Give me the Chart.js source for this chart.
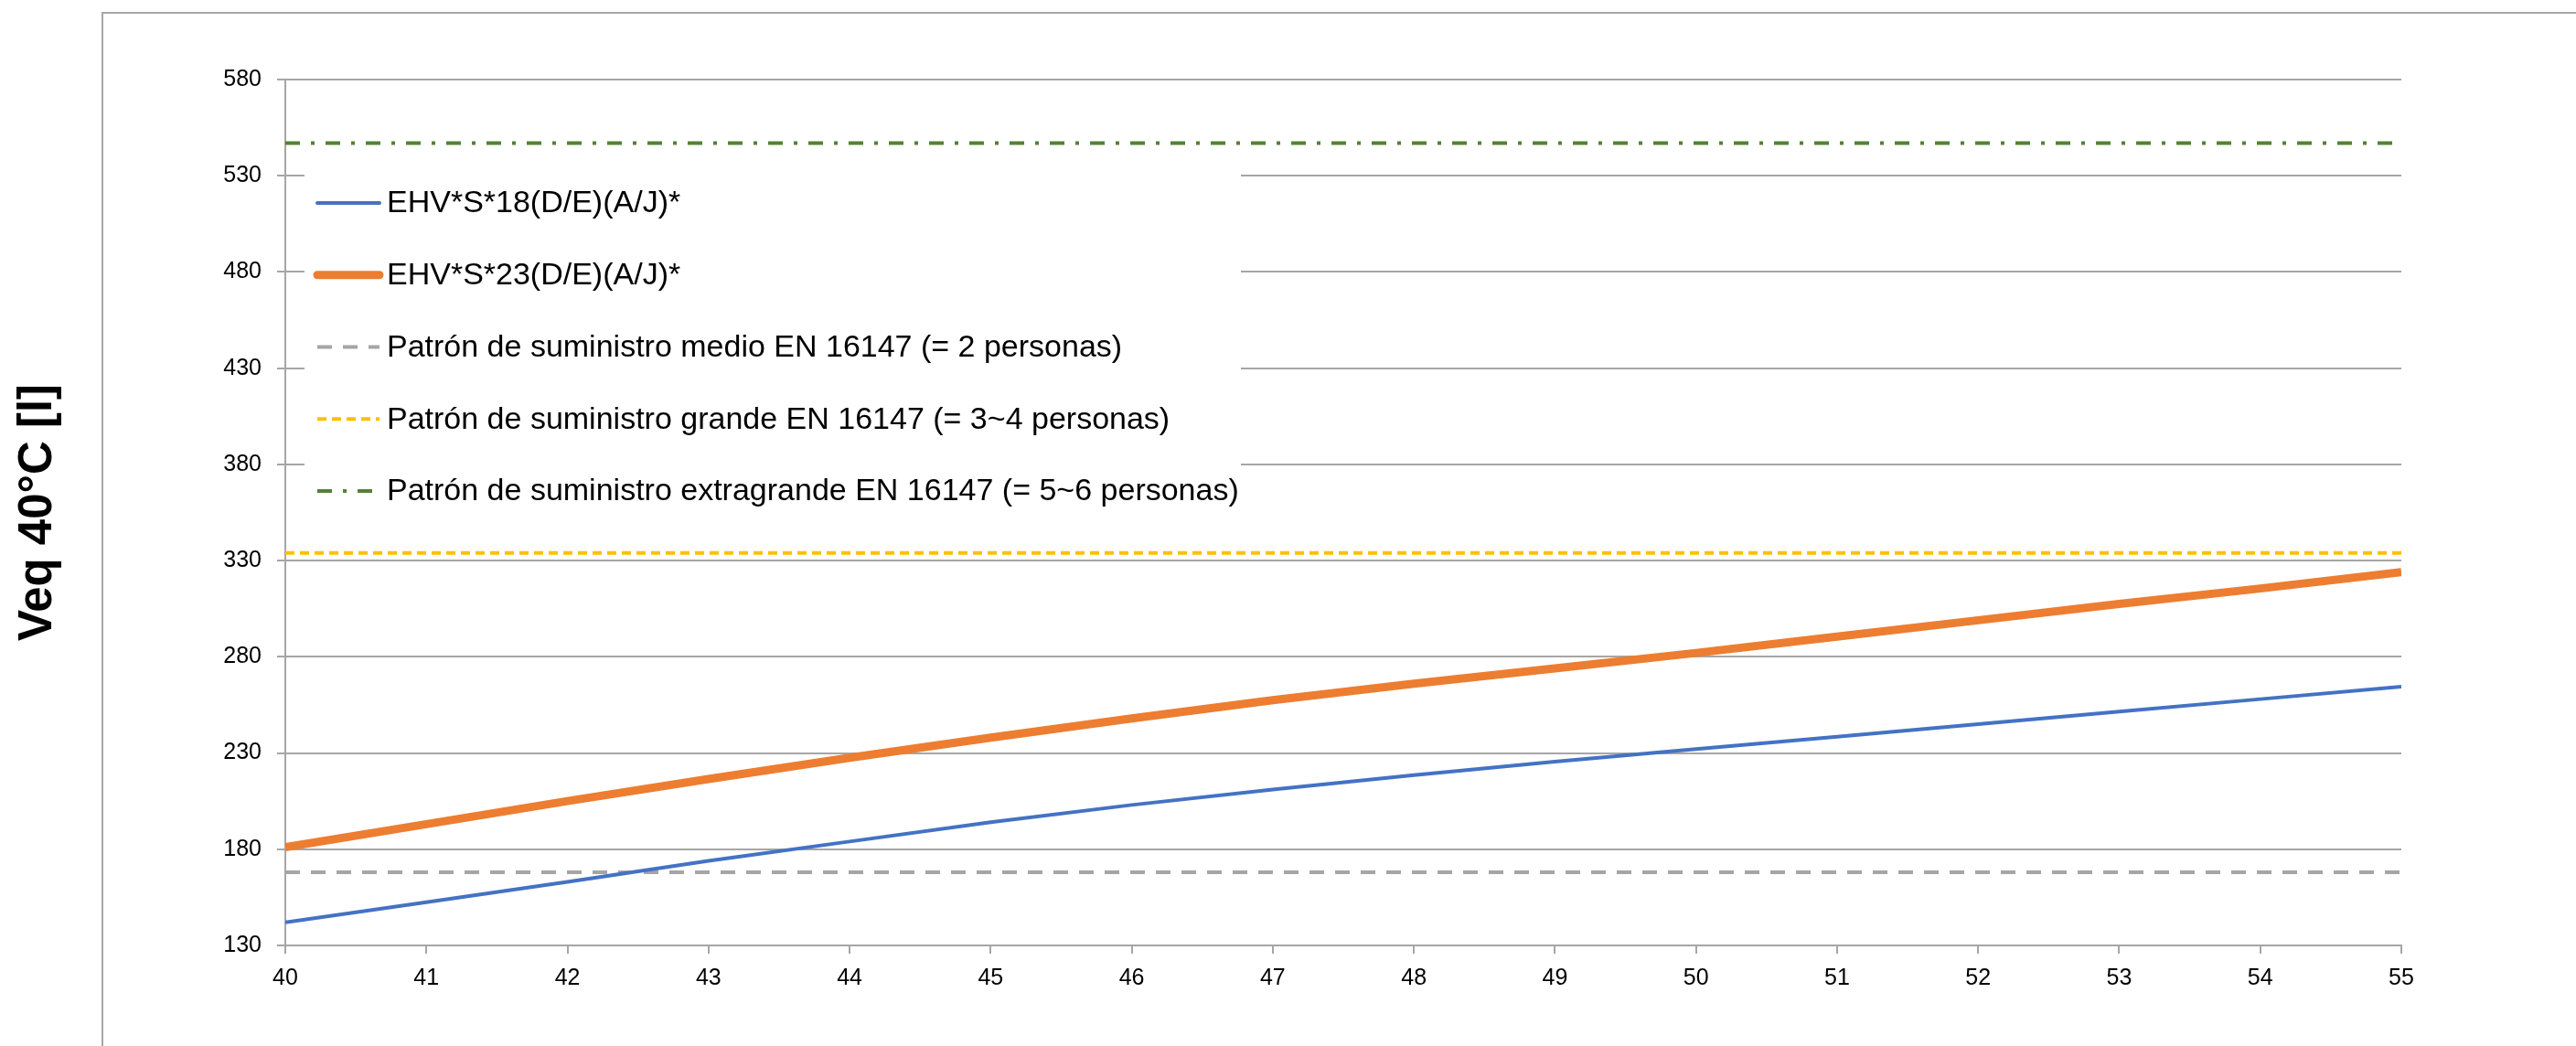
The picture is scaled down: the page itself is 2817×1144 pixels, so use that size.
<!DOCTYPE html>
<html>
  <head>
    <title>Veq 40°C</title>
    <script src="https://cdn.jsdelivr.net/npm/chart.js"></script>
    <style>
      body {
        margin: 0;
        background: #fff;
        overflow: hidden;
      }
      #wrap {
        width: 2817px;
        height: 1144px;
        position: relative;
      }
    </style>
  </head>
  <body>
    <div id="wrap"><canvas id="veq-chart"></canvas></div>

    <script>
      // temperatures on the x axis
      const xValues = [40, 41, 42, 43, 44, 45, 46, 47, 48, 49, 50, 51, 52, 53, 54, 55]

      // Veq 40°C [l] for the two tanks
      const ehv18 = [142, 152.5, 163, 174, 184, 194, 203, 211, 218.5, 225.5, 232, 238.5, 245, 251.5, 258, 264.5]
      const ehv23 = [181, 193, 205, 216.5, 227.5, 238, 248, 257.5, 266, 274, 282, 290.5, 299, 307.5, 315.5, 324]

      // EN 16147 tapping profile levels
      const profileLevels = [168, 334, 547]

      const seriesLabels = [
        'EHV*S*18(D/E)(A/J)*',
        'EHV*S*23(D/E)(A/J)*',
        'Patrón de suministro medio EN 16147 (= 2 personas)',
        'Patrón de suministro grande EN 16147 (= 3~4 personas)',
        'Patrón de suministro extragrande EN 16147 (= 5~6 personas)'
      ]

      const yTicks = [130, 180, 230, 280, 330, 380, 430, 480, 530, 580]
      const xTicks = xValues

      const FONT = "'Liberation Sans', Arial, sans-serif"
      const GRID = '#a6a6a6'

      const toPoints = values => xValues.map((x, i) => ({ x: x, y: values[i] }))
      const flat = level => [
        { x: xValues[0], y: level },
        { x: xValues[xValues.length - 1], y: level }
      ]

      // Excel-like legend box sitting on top of the plot
      const legendBox = {
        id: 'legendBox',
        afterDatasetsDraw(chart) {
          const { ctx, chartArea } = chart
          const x0 = chartArea.left + 21
          const y0 = chartArea.top + 85
          ctx.save()
          ctx.fillStyle = '#fff'
          ctx.fillRect(x0, y0, 1024, 410)
          ctx.font = '34px ' + FONT
          ctx.textBaseline = 'middle'
          ctx.fillStyle = '#000'
          chart.data.datasets.forEach((ds, i) => {
            const y = y0 + 50 + i * 78.75
            ctx.strokeStyle = ds.borderColor
            ctx.lineWidth = ds.borderWidth
            ctx.setLineDash(ds.borderDash || [])
            ctx.lineCap = ds.borderDash ? 'butt' : 'round'
            ctx.beginPath()
            ctx.moveTo(x0 + 14, y)
            ctx.lineTo(x0 + 82, y)
            ctx.stroke()
            ctx.fillText(ds.label, x0 + 90, y + 1)
          })
          ctx.restore()
        }
      }

      // outer chart frame
      const chartFrame = {
        id: 'chartFrame',
        beforeDraw(chart) {
          const ctx = chart.ctx
          ctx.save()
          ctx.strokeStyle = '#a6a6a6'
          ctx.lineWidth = 2
          ctx.strokeRect(112, 14, 4000, 4000)
          ctx.restore()
        }
      }

      new Chart(document.getElementById('veq-chart'), {
        type: 'line',
        data: {
          datasets: [
            {
              label: seriesLabels[0],
              data: toPoints(ehv18),
              borderColor: '#4472c4',
              borderWidth: 4,
              order: 1
            },
            {
              label: seriesLabels[1],
              data: toPoints(ehv23),
              borderColor: '#ed7d31',
              borderWidth: 9,
              order: 0
            },
            {
              label: seriesLabels[2],
              data: flat(profileLevels[0]),
              borderColor: '#a5a5a5',
              borderWidth: 4,
              borderDash: [16, 12],
              order: 2
            },
            {
              label: seriesLabels[3],
              data: flat(profileLevels[1]),
              borderColor: '#ffc000',
              borderWidth: 4,
              borderDash: [10, 6],
              order: 3
            },
            {
              label: seriesLabels[4],
              data: flat(profileLevels[2]),
              borderColor: '#548235',
              borderWidth: 4,
              borderDash: [16, 12, 4, 12],
              order: 4
            }
          ]
        },
        options: {
          responsive: true,
          maintainAspectRatio: false,
          animation: false,
          events: [],
          layout: {
            padding: { top: 87, right: 191, left: 0, bottom: 0 }
          },
          elements: {
            point: { radius: 0 },
            line: { tension: 0, fill: false }
          },
          scales: {
            x: {
              type: 'linear',
              min: 40,
              max: 55,
              afterBuildTicks: scale => {
                scale.ticks = xTicks.map(v => ({ value: v }))
              },
              afterFit: scale => {
                scale.height = 110
              },
              grid: {
                drawOnChartArea: false,
                drawTicks: true,
                tickLength: 9,
                color: GRID,
                lineWidth: 2
              },
              border: { color: GRID, width: 2 },
              ticks: {
                color: '#000',
                padding: 12,
                maxRotation: 0,
                font: { family: FONT, size: 25 }
              }
            },
            y: {
              type: 'linear',
              min: 130,
              max: 580,
              afterBuildTicks: scale => {
                scale.ticks = yTicks.map(v => ({ value: v }))
              },
              afterFit: scale => {
                scale.width = 312
              },
              grid: {
                drawTicks: true,
                tickLength: 9,
                color: GRID,
                lineWidth: 2
              },
              border: { color: GRID, width: 2 },
              ticks: {
                color: '#000',
                padding: 17,
                font: { family: FONT, size: 25 }
              },
              title: {
                display: true,
                text: 'Veq 40°C [l]',
                color: '#000',
                padding: { top: 11, bottom: 0 },
                font: { family: FONT, size: 51, weight: 'bold', lineHeight: 1.2 }
              }
            }
          },
          plugins: {
            legend: { display: false },
            tooltip: { enabled: false }
          }
        },
        plugins: [chartFrame, legendBox]
      })
    </script>
  </body>
</html>
